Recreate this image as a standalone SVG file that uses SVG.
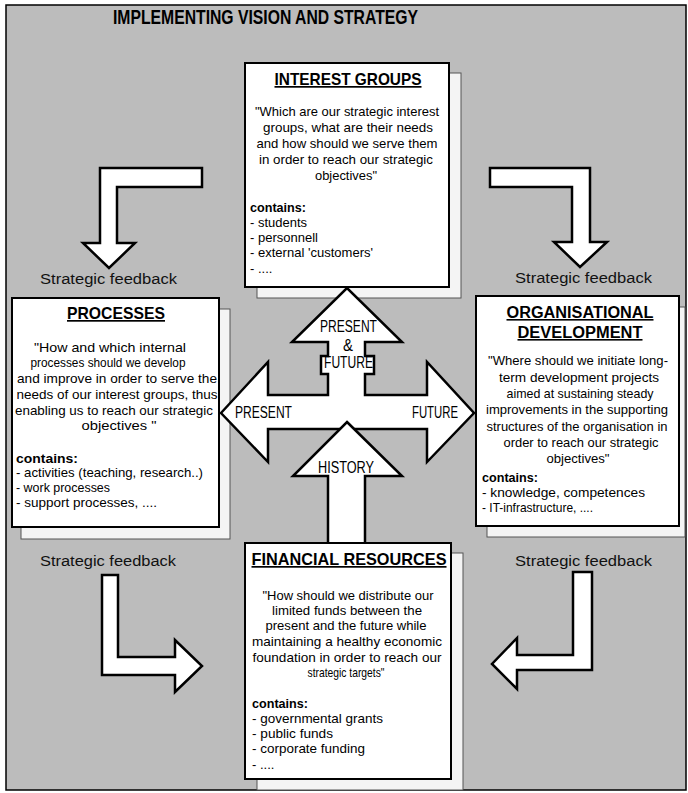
<svg xmlns="http://www.w3.org/2000/svg" width="688" height="793" viewBox="0 0 688 793">
  <style>
    .page { fill: #ffffff; }
    .bg { fill: #bcbcbc; stroke: #000; stroke-width: 1.5; }
    .card { fill: #ffffff; stroke: #000; stroke-width: 2; }
    .sheet { fill: #f4f4f4; stroke: #555; stroke-width: 1; }
    .arrow { fill: #ffffff; stroke: #000; stroke-width: 2.5; stroke-linejoin: miter; }
    .fb { fill: #ffffff; stroke: #000; stroke-width: 2.5; stroke-linejoin: miter; }
    text { font-family: "Liberation Sans", Arial, sans-serif; fill: #000; }
    .title { font-size: 21px; font-weight: bold; }
    .hd { font-size: 17px; font-weight: bold; text-decoration: underline; text-anchor: middle; }
    .q { font-size: 13px; text-anchor: middle; }
    .li { font-size: 13px; }
    .lb { font-size: 13px; font-weight: bold; }
    .al { font-size: 16px; }
    .fbl { font-size: 14px; fill: #111; }
  </style>

  <rect class="page" x="0" y="0" width="688" height="793"/>
  <rect class="bg" x="6" y="5" width="680" height="785"/>

  <text class="title" x="113" y="24" textLength="305" lengthAdjust="spacingAndGlyphs">IMPLEMENTING VISION AND STRATEGY</text>

  <!-- stacked sheets behind each card -->
  <g id="sheets">
    <rect class="sheet" x="257" y="73" width="204" height="225"/>
    <rect class="sheet" x="21" y="309" width="209" height="230"/>
    <rect class="sheet" x="487" y="307" width="198" height="230"/>
    <rect class="sheet" x="257" y="553" width="206" height="237"/>
  </g>

  <g id="connectors">
    <!-- strategic feedback bends -->
    <polygon class="fb" points="202,168 100,168 100,243 83,243 109,268 135,243 117,243 117,187 202,187"/>
    <polygon class="fb" points="490,168 590,168 590,242 607,242 580,267 554,242 572,242 572,187 490,187"/>
    <polygon class="fb" points="102,575 102,675 175,675 175,692 202,666 175,640 175,657 118,657 118,575"/>
    <polygon class="fb" points="592,572 592,670 517,670 517,689 492,664 517,638 517,655 573,655 573,572"/>
    <text class="fbl" x="40" y="284" textLength="137" lengthAdjust="spacingAndGlyphs">Strategic feedback</text>
    <text class="fbl" x="515" y="283" textLength="137" lengthAdjust="spacingAndGlyphs">Strategic feedback</text>
    <text class="fbl" x="40" y="566" textLength="136" lengthAdjust="spacingAndGlyphs">Strategic feedback</text>
    <text class="fbl" x="515" y="566" textLength="137" lengthAdjust="spacingAndGlyphs">Strategic feedback</text>

    <!-- time axis: present / future, with upward arrow -->
    <polygon class="arrow" points="221,413 268,362 268,395 328,395 328,374 321,374 321,356 328,356 328,342 292,342 347,288 402,342 365,342 365,356 374,356 374,374 365,374 365,395 427,395 427,362 474,413 427,462 427,429 268,429 268,462"/>
    <!-- history arrow -->
    <polygon class="arrow" points="347,422 402,476 365,476 365,545 328,545 328,476 293,476"/>

    <text class="al" x="235" y="418" textLength="57" lengthAdjust="spacingAndGlyphs">PRESENT</text>
    <text class="al" x="412" y="418" textLength="46" lengthAdjust="spacingAndGlyphs">FUTURE</text>
    <text class="al" x="320" y="332" textLength="57" lengthAdjust="spacingAndGlyphs">PRESENT</text>
    <text class="al" x="343" y="351" textLength="10" lengthAdjust="spacingAndGlyphs">&amp;</text>
    <text class="al" x="324" y="368" textLength="49" lengthAdjust="spacingAndGlyphs">FUTURE</text>
    <text class="al" x="318" y="473" textLength="56" lengthAdjust="spacingAndGlyphs">HISTORY</text>
  </g>

  <g id="interest-groups">
    <rect class="card" x="245" y="63" width="204" height="224"/>
    <text class="hd" x="348" y="85" textLength="147" lengthAdjust="spacingAndGlyphs">INTEREST GROUPS</text>
    <text class="q" x="347" y="116" textLength="184" lengthAdjust="spacingAndGlyphs">"Which are our strategic interest</text>
    <text class="q" x="348" y="132" textLength="170" lengthAdjust="spacingAndGlyphs">groups, what are their needs</text>
    <text class="q" x="347" y="148" textLength="181" lengthAdjust="spacingAndGlyphs">and how should we serve them</text>
    <text class="q" x="346" y="164" textLength="174" lengthAdjust="spacingAndGlyphs">in order to reach our strategic</text>
    <text class="q" x="346" y="180" textLength="62" lengthAdjust="spacingAndGlyphs">objectives"</text>
    <text class="lb" x="250" y="212" textLength="56" lengthAdjust="spacingAndGlyphs">contains:</text>
    <text class="li" x="250" y="227" textLength="57" lengthAdjust="spacingAndGlyphs">- students</text>
    <text class="li" x="250" y="242" textLength="68" lengthAdjust="spacingAndGlyphs">- personnell</text>
    <text class="li" x="250" y="257" textLength="123" lengthAdjust="spacingAndGlyphs">- external 'customers'</text>
    <text class="li" x="250" y="273">- ....</text>
  </g>

  <g id="processes">
    <rect class="card" x="12" y="298" width="207" height="229"/>
    <text class="hd" x="116" y="319" textLength="98" lengthAdjust="spacingAndGlyphs">PROCESSES</text>
    <text class="q" x="110" y="352" textLength="152" lengthAdjust="spacingAndGlyphs">"How and which internal</text>
    <text class="q" x="108" y="367" textLength="155" lengthAdjust="spacingAndGlyphs">processes should we develop</text>
    <text class="q" x="117" y="383" textLength="200" lengthAdjust="spacingAndGlyphs">and improve in order to serve the</text>
    <text class="q" x="117" y="399" textLength="201" lengthAdjust="spacingAndGlyphs">needs of our interest groups, thus</text>
    <text class="q" x="114" y="415" textLength="198" lengthAdjust="spacingAndGlyphs">enabling us to reach our strategic</text>
    <text class="q" x="119" y="430" textLength="75" lengthAdjust="spacingAndGlyphs">objectives "</text>
    <text class="lb" x="16" y="463" textLength="62" lengthAdjust="spacingAndGlyphs">contains:</text>
    <text class="li" x="16" y="477" textLength="187" lengthAdjust="spacingAndGlyphs">- activities (teaching, research..)</text>
    <text class="li" x="16" y="492" textLength="94" lengthAdjust="spacingAndGlyphs">- work processes</text>
    <text class="li" x="16" y="507" textLength="141" lengthAdjust="spacingAndGlyphs">- support processes, ....</text>
  </g>

  <g id="organisational-development">
    <rect class="card" x="476" y="296" width="203" height="230"/>
    <text class="hd" x="580" y="318" textLength="147" lengthAdjust="spacingAndGlyphs" style="font-size:16px">ORGANISATIONAL</text>
    <text class="hd" x="580" y="338" textLength="125" lengthAdjust="spacingAndGlyphs" style="font-size:16px">DEVELOPMENT</text>
    <text class="q" x="578" y="365" textLength="180" lengthAdjust="spacingAndGlyphs">"Where should we initiate long-</text>
    <text class="q" x="579" y="382" textLength="160" lengthAdjust="spacingAndGlyphs">term development projects</text>
    <text class="q" x="580" y="398" textLength="147" lengthAdjust="spacingAndGlyphs">aimed at sustaining steady</text>
    <text class="q" x="577" y="414" textLength="182" lengthAdjust="spacingAndGlyphs">improvements in the supporting</text>
    <text class="q" x="577" y="431" textLength="181" lengthAdjust="spacingAndGlyphs">structures of the organisation in</text>
    <text class="q" x="581" y="447" textLength="155" lengthAdjust="spacingAndGlyphs">order to reach our strategic</text>
    <text class="q" x="578" y="463" textLength="63" lengthAdjust="spacingAndGlyphs">objectives"</text>
    <text class="lb" x="482" y="482" textLength="56" lengthAdjust="spacingAndGlyphs">contains:</text>
    <text class="li" x="482" y="497" textLength="163" lengthAdjust="spacingAndGlyphs">- knowledge, competences</text>
    <text class="li" x="482" y="512" textLength="111" lengthAdjust="spacingAndGlyphs">- IT-infrastructure, ....</text>
  </g>

  <g id="financial-resources">
    <rect class="card" x="245" y="543" width="206" height="236"/>
    <text class="hd" x="349" y="565" textLength="195" lengthAdjust="spacingAndGlyphs">FINANCIAL RESOURCES</text>
    <text class="q" x="348" y="600" textLength="171" lengthAdjust="spacingAndGlyphs">"How should we distribute our</text>
    <text class="q" x="347" y="615" textLength="150" lengthAdjust="spacingAndGlyphs">limited funds between the</text>
    <text class="q" x="346" y="630" textLength="161" lengthAdjust="spacingAndGlyphs">present and the future while</text>
    <text class="q" x="347" y="646" textLength="190" lengthAdjust="spacingAndGlyphs">maintaining a healthy economic</text>
    <text class="q" x="347" y="662" textLength="189" lengthAdjust="spacingAndGlyphs">foundation in order to reach our</text>
    <text class="q" x="346" y="677" textLength="77" lengthAdjust="spacingAndGlyphs">strategic targets"</text>
    <text class="lb" x="252" y="708" textLength="56" lengthAdjust="spacingAndGlyphs">contains:</text>
    <text class="li" x="252" y="723" textLength="131" lengthAdjust="spacingAndGlyphs">- governmental grants</text>
    <text class="li" x="252" y="738" textLength="81" lengthAdjust="spacingAndGlyphs">- public funds</text>
    <text class="li" x="252" y="753" textLength="113" lengthAdjust="spacingAndGlyphs">- corporate funding</text>
    <text class="li" x="252" y="769">- ....</text>
  </g>
</svg>
